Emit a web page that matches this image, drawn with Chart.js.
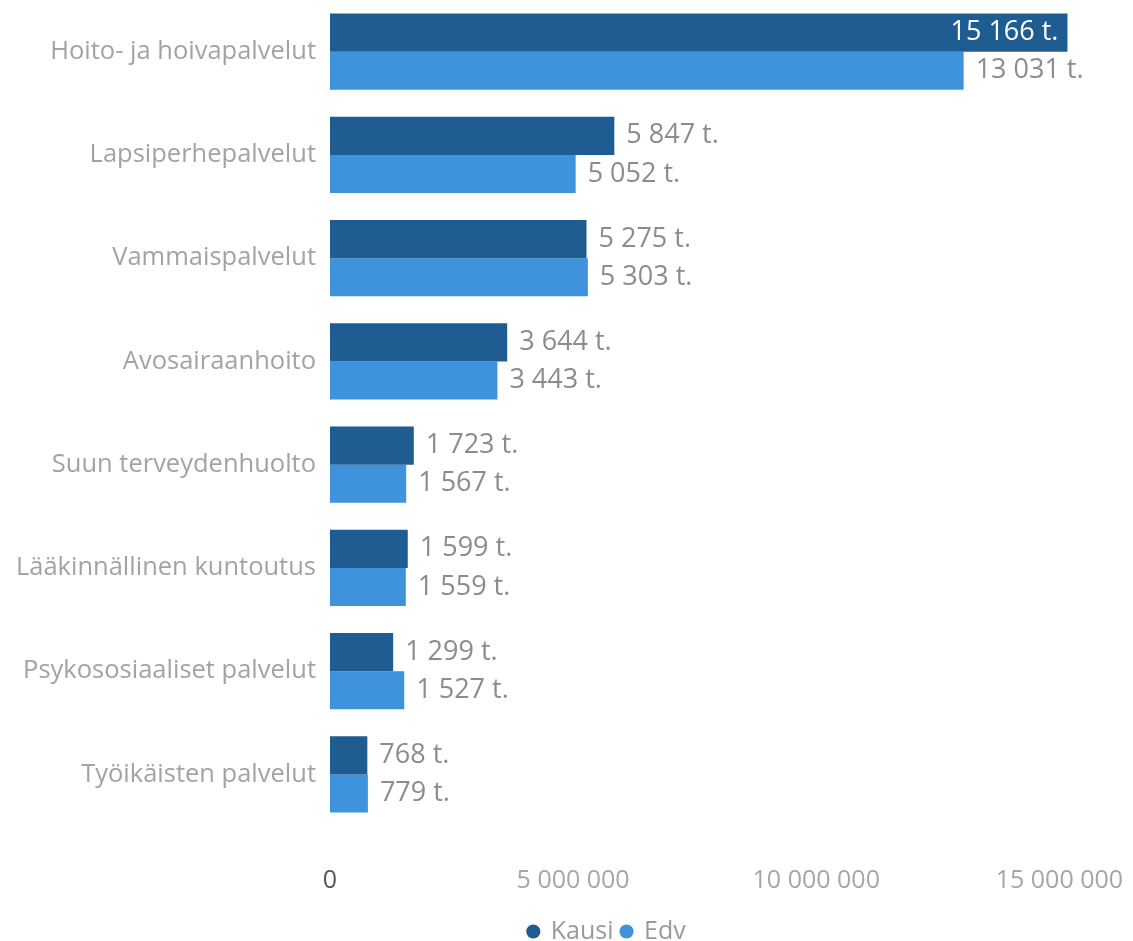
<!DOCTYPE html>
<html>
<head>
<meta charset="utf-8">
<script src="https://cdn.jsdelivr.net/npm/chart.js@4/dist/chart.umd.min.js"></script>
<style>
  html, body { margin: 0; padding: 0; background: #fff; }
  #wrap { width: 1133px; height: 941px; }
</style>
</head>
<body>
<div id="wrap"><canvas id="chart"></canvas></div>
<script>
// palvelut, euroina
const categories = [
  'Hoito- ja hoivapalvelut',
  'Lapsiperhepalvelut',
  'Vammaispalvelut',
  'Avosairaanhoito',
  'Suun terveydenhuolto',
  'Lääkinnällinen kuntoutus',
  'Psykososiaaliset palvelut',
  'Työikäisten palvelut'
];
const kausi = [15166000, 5847000, 5275000, 3644000, 1723000, 1599000, 1299000, 768000];
const edv = [13031000, 5052000, 5303000, 3443000, 1567000, 1559000, 1527000, 779000];
const xTicks = [0, 5000000, 10000000, 15000000];

const FONT = "'Open Sans', sans-serif";

function fmt(n) {
  return String(Math.round(n)).replace(/\B(?=(\d{3})+(?!\d))/g, ' ');
}

// arvot palkkien perään
const valueLabels = {
  id: 'valueLabels',
  afterDatasetsDraw(chart) {
    const ctx = chart.ctx;
    ctx.save();
    ctx.font = '27px ' + FONT;
    ctx.textBaseline = 'middle';
    chart.data.datasets.forEach((ds, i) => {
      chart.getDatasetMeta(i).data.forEach((bar, j) => {
        const txt = fmt(ds.data[j] / 1000) + ' t.';
        const w = ctx.measureText(txt).width;
        if (bar.x + 12 + w > chart.width) {
          ctx.fillStyle = '#ffffff';
          ctx.textAlign = 'right';
          ctx.fillText(txt, bar.x - 9, bar.y);
        } else {
          ctx.fillStyle = '#8c8c8c';
          ctx.textAlign = 'left';
          ctx.fillText(txt, bar.x + 12, bar.y);
        }
      });
    });
    ctx.restore();
  }
};

// selite hieman oikealle ja alemmas
const shiftLegend = {
  id: 'shiftLegend',
  afterLayout(chart) {
    const lg = chart.legend;
    if (lg) {
      lg.left += 48;
      lg.right += 48;
      lg.top += 13;
      lg.bottom += 13;
    }
  }
};

new Chart(document.getElementById('chart'), {
  type: 'bar',
  data: {
    labels: categories,
    datasets: [
      { label: 'Kausi', data: kausi, backgroundColor: '#1f5c92' },
      { label: 'Edv', data: edv, backgroundColor: '#3f92dc' }
    ]
  },
  options: {
    indexAxis: 'y',
    responsive: true,
    maintainAspectRatio: false,
    animation: false,
    datasets: { bar: { categoryPercentage: 0.74, barPercentage: 1 } },
    layout: { padding: { top: 0, right: 25, bottom: 0, left: 10 } },
    scales: {
      x: {
        min: 0,
        max: 16000000,
        grid: { display: false },
        border: { display: false },
        afterBuildTicks: (axis) => { axis.ticks = xTicks.map(v => ({ value: v })); },
        afterFit: (axis) => { axis.height = 72; axis.paddingLeft = 0; axis.paddingRight = 0; },
        ticks: {
          padding: 32,
          color: (c) => c.tick.value === 0 ? '#555555' : '#a6a6a6',
          font: { family: FONT, size: 25 },
          callback: (v) => fmt(v)
        }
      },
      y: {
        grid: { display: false },
        border: { display: false },
        afterFit: (axis) => { axis.width = 320; axis.paddingTop = 0; axis.paddingBottom = 0; },
        ticks: {
          padding: 6,
          color: '#a3a3a3',
          font: { family: FONT, size: 25.5 }
        }
      }
    },
    plugins: {
      legend: {
        position: 'bottom',
        labels: {
          usePointStyle: true,
          pointStyle: 'circle',
          boxWidth: 10,
          boxHeight: 10,
          padding: 8,
          color: '#9a9a9a',
          font: { family: FONT, size: 25 }
        }
      },
      tooltip: { enabled: false }
    }
  },
  plugins: [valueLabels, shiftLegend]
});
</script>
</body>
</html>
